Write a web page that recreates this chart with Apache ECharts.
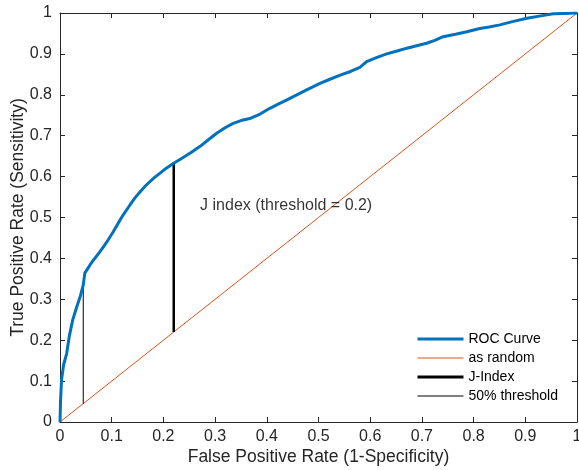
<!DOCTYPE html>
<html>
<head>
<meta charset="utf-8">
<script src="https://cdn.jsdelivr.net/npm/echarts@6/dist/echarts.min.js"></script>
<style>html,body{margin:0;padding:0;background:#fff}#c{width:579px;height:470px}</style>
</head>
<body>
<div id="c"></div>
<script>
// ROC curve (False Positive Rate vs True Positive Rate)
var rocFPR = [0, 0.001, 0.003, 0.007, 0.013, 0.018, 0.0245, 0.032, 0.039, 0.045, 0.048, 0.052, 0.058, 0.066, 0.077, 0.085, 0.093, 0.103, 0.112, 0.122, 0.135, 0.145, 0.155, 0.165, 0.174, 0.183, 0.193, 0.205, 0.219, 0.232, 0.245, 0.255, 0.264, 0.271, 0.287, 0.303, 0.32, 0.335, 0.35, 0.367, 0.387, 0.406, 0.422, 0.438, 0.458, 0.477, 0.503, 0.522, 0.542, 0.562, 0.58, 0.593, 0.612, 0.632, 0.652, 0.671, 0.69, 0.709, 0.725, 0.741, 0.765, 0.787, 0.812, 0.83, 0.851, 0.875, 0.903, 0.93, 0.954, 0.975, 1];
var rocTPR = [0, 0.05, 0.103, 0.14, 0.168, 0.21, 0.249, 0.28, 0.306, 0.335, 0.364, 0.372, 0.384, 0.398, 0.416, 0.43, 0.445, 0.465, 0.485, 0.506, 0.53, 0.548, 0.563, 0.577, 0.588, 0.598, 0.608, 0.62, 0.632, 0.642, 0.652, 0.66, 0.668, 0.674, 0.69, 0.706, 0.72, 0.73, 0.737, 0.742, 0.753, 0.767, 0.777, 0.787, 0.8, 0.812, 0.828, 0.838, 0.848, 0.857, 0.867, 0.881, 0.891, 0.9, 0.907, 0.914, 0.92, 0.926, 0.933, 0.942, 0.948, 0.954, 0.962, 0.966, 0.971, 0.979, 0.987, 0.993, 0.998, 0.999, 1];
// Random classifier diagonal
var randomX = [0, 1];
var randomY = [0, 1];
// J-Index segment (threshold = 0.2)
var jX = [0.22, 0.22];
var jY = [0.22, 0.632];
// 50% threshold segment
var halfX = [0.045, 0.045];
var halfY = [0.045, 0.33];
// Annotation
var annotText = 'J index (threshold = 0.2)';
var annotPos = [0.271, 0.528];
var seriesNames = ['ROC Curve', 'as random', 'J-Index', '50% threshold'];

function zip(a, b) { return a.map(function (v, i) { return [v, b[i]]; }); }

var FONT = 'Liberation Sans, Arial, sans-serif';
var AX = '#262626';
var chart = echarts.init(document.getElementById('c'));

function xAx(pos, showLabel) {
  return {
    type: 'value', min: 0, max: 1, interval: 0.1, position: pos,
    name: showLabel ? 'False Positive Rate (1-Specificity)' : '',
    nameLocation: 'middle', nameGap: 26, nameMoveOverlap: false,
    nameTextStyle: { fontFamily: FONT, fontSize: 17.5, color: AX },
    axisLine: { show: true, onZero: false, lineStyle: { color: AX, width: 1 } },
    axisTick: { show: true, inside: true, length: 5, lineStyle: { color: AX } },
    axisLabel: { show: showLabel, margin: 7, fontFamily: FONT, fontSize: 16, color: AX },
    splitLine: { show: false }
  };
}
function yAx(pos, showLabel) {
  return {
    type: 'value', min: 0, max: 1, interval: 0.1, position: pos,
    name: showLabel ? 'True Positive Rate (Sensitivity)' : '',
    nameLocation: 'middle', nameGap: 33, nameRotate: 90, nameMoveOverlap: false,
    nameTextStyle: { fontFamily: FONT, fontSize: 17.5, color: AX },
    axisLine: { show: true, onZero: false, lineStyle: { color: AX, width: 1 } },
    axisTick: { show: true, inside: true, length: 5, lineStyle: { color: AX } },
    axisLabel: { show: showLabel, margin: 8, fontFamily: FONT, fontSize: 16, color: AX },
    splitLine: { show: false }
  };
}

var legendWidths = [3, 1, 3, 1];
var legendColors = ['#0072BD', '#D95319', '#000', '#000'];

chart.setOption({
  animation: false,
  backgroundColor: '#fff',
  grid: { left: 60, right: 2, top: 13, bottom: 48, outerBoundsMode: 'none', containLabel: false },
  xAxis: [xAx('bottom', true), xAx('top', false)],
  yAxis: [yAx('left', true), yAx('right', false)],
  legend: {
    data: seriesNames.map(function (n, i) {
      return { name: n, lineStyle: { width: legendWidths[i], color: legendColors[i] } };
    }),
    orient: 'vertical', left: 411, top: 327,
    itemWidth: 46, itemHeight: 14, itemGap: 5,
    itemStyle: { opacity: 0 },
    textStyle: { fontFamily: FONT, fontSize: 14, color: '#000' },
    selectedMode: false
  },
  series: [
    { name: seriesNames[0], type: 'line', data: zip(rocFPR, rocTPR), showSymbol: false, symbol: 'none',
      lineStyle: { color: '#0072BD', width: 3 }, itemStyle: { color: '#0072BD' }, z: 3 },
    { name: seriesNames[1], type: 'line', data: zip(randomX, randomY), showSymbol: false, symbol: 'none',
      lineStyle: { color: '#D95319', width: 1 }, itemStyle: { color: '#D95319' }, z: 2 },
    { name: seriesNames[2], type: 'line', data: zip(jX, jY), showSymbol: false, symbol: 'none',
      lineStyle: { color: '#000', width: 2.5 }, itemStyle: { color: '#000' }, z: 2 },
    { name: seriesNames[3], type: 'line', data: zip(halfX, halfY), showSymbol: false, symbol: 'none',
      lineStyle: { color: '#000', width: 1 }, itemStyle: { color: '#000' }, z: 2 },
    { name: 'annotation', type: 'scatter', data: [annotPos], symbolSize: 0, silent: true,
      label: { show: true, position: 'right', distance: 0, formatter: annotText,
        fontFamily: FONT, fontSize: 16, color: '#000' } }
  ]
});
</script>
</body>
</html>
